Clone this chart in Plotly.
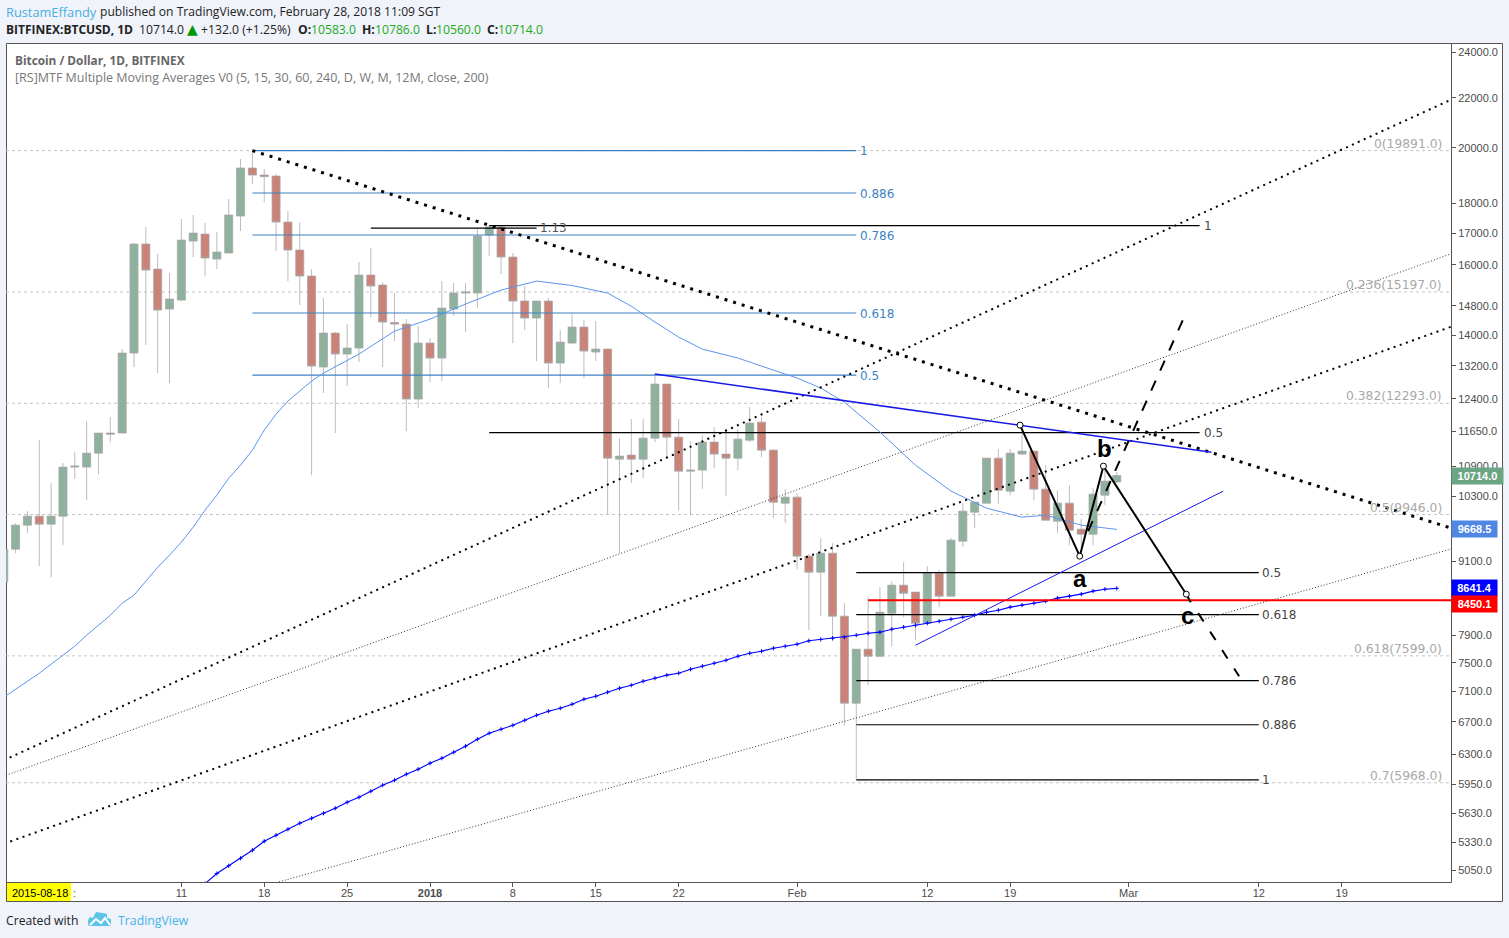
import math
import pandas as pd
import plotly.graph_objects as go

# Daily BTCUSD candles, 2017-11-26 to 2018-02-28
first_day = "2017-11-26"
opens = [8744, 9311, 9747, 9916, 9766, 9916, 10886, 10886, 11180, 11615, 11615, 13527, 16648, 15873, 14709, 14963, 16743, 16968, 16179, 16365, 17560, 19242, 18987, 18950, 17360, 16458, 15664, 13171, 14052, 13501, 13656, 15694, 15398, 14336, 14295, 12392, 13787, 13398, 14709, 15165, 15165, 16936, 17196, 16241, 14935, 14459, 14935, 13271, 13787, 14213, 13553, 13630, 11053, 11138, 11053, 11504, 12751, 11526, 10803, 10824, 11417, 11159, 11074, 11460, 11860, 11244, 10164, 10281, 9188, 8912, 9240, 8196, 6944, 7696, 7594, 8243, 8694, 8580, 8087, 8895, 8514, 9454, 9991, 10164, 11074, 10399, 11159, 11223, 10439, 9821, 10164, 9673, 9581, 10320, 10583]
highs = [9311, 9784, 10010, 11460, 10559, 10970, 11200, 11883, 11615, 11974, 13630, 16680, 17196, 16334, 15753, 17460, 17593, 17327, 17033, 18138, 19574, 19891, 19205, 19024, 17727, 17360, 15873, 15021, 14079, 14295, 16087, 16521, 15485, 15165, 14432, 14241, 13919, 15515, 15456, 15456, 17163, 17262, 17262, 16365, 15368, 14935, 15021, 14132, 14570, 14404, 14377, 13630, 11504, 11928, 11928, 13021, 12751, 11928, 11438, 11570, 11748, 11725, 11703, 12204, 11974, 11266, 10439, 10360, 9223, 9508, 9418, 8401, 7696, 8498, 8662, 8760, 9083, 8580, 9015, 8946, 9508, 10164, 10183, 11074, 11266, 11266, 11793, 11223, 10928, 10419, 10519, 9859, 10459, 10886, 10786]
lows = [8744, 9240, 9599, 9015, 8828, 9382, 10640, 10222, 10742, 11417, 11615, 13171, 13735, 13021, 12775, 14935, 16241, 15664, 15873, 16365, 17065, 18664, 18035, 16427, 15515, 14822, 10720, 12535, 11615, 12703, 13297, 14487, 13171, 13840, 11659, 12181, 12800, 12824, 14515, 14079, 14737, 16272, 15723, 13787, 14132, 13322, 12654, 12775, 13761, 12897, 13322, 9953, 9240, 10559, 10660, 11417, 11074, 10029, 9934, 10439, 10866, 10300, 10824, 11417, 11095, 9878, 9784, 8963, 7980, 8196, 7814, 6658, 6000, 7186, 7580, 7740, 8180, 7829, 8087, 8338, 8514, 9347, 9691, 10164, 10145, 10320, 11138, 10222, 9840, 9599, 9382, 9347, 9382, 10125, 10560]
closes = [9311, 9747, 9916, 9766, 9916, 10886, 10907, 11180, 11615, 11593, 13527, 16648, 15843, 14681, 14992, 16775, 17000, 16210, 16396, 17593, 19242, 18987, 18930, 17360, 16458, 15664, 13196, 14052, 13501, 13656, 15694, 15368, 14350, 14295, 12392, 13787, 13398, 14737, 15165, 15193, 16904, 17196, 16241, 14935, 14459, 14935, 13271, 13813, 14213, 13578, 13630, 11074, 11117, 11053, 11504, 12751, 11526, 10803, 10824, 11417, 11159, 11074, 11482, 11838, 11244, 10183, 10281, 9188, 8912, 9240, 8196, 6944, 7696, 7594, 8258, 8694, 8563, 8087, 8895, 8514, 9472, 10010, 10183, 11074, 10419, 11180, 11223, 10439, 9840, 10164, 9654, 9581, 10340, 10599, 10714]
days = pd.date_range(first_day, periods=len(closes)).strftime("%Y-%m-%d").tolist()

# Slow moving average, one reading per day from 13 December
slow_ma_start = "2017-12-13"
slow_ma = [4925, 5020, 5095, 5168, 5248, 5339, 5400, 5462, 5525, 5577, 5631, 5685, 5750, 5805, 5872, 5940, 5996, 6066, 6124, 6194, 6253, 6325, 6398, 6483, 6558, 6608, 6658, 6722, 6787, 6839, 6878, 6931, 6997, 7037, 7091, 7145, 7186, 7241, 7283, 7325, 7352, 7408, 7451, 7493, 7536, 7594, 7637, 7666, 7711, 7740, 7770, 7820, 7840, 7859, 7874, 7904, 7934, 7950, 7995, 8026, 8056, 8087, 8117, 8149, 8180, 8211, 8258, 8290, 8338, 8370, 8401, 8433, 8482, 8514, 8547, 8596, 8628, 8641.4]
slow_ma_days = pd.date_range(slow_ma_start, periods=len(slow_ma)).strftime("%Y-%m-%d").tolist()

# Faster moving average
fast_ma_days = ["2017-11-26", "2017-11-28", "2017-11-29", "2017-11-30", "2017-12-01", "2017-12-02", "2017-12-03", "2017-12-04", "2017-12-05", "2017-12-06", "2017-12-07", "2017-12-08", "2017-12-09", "2017-12-10", "2017-12-11", "2017-12-12", "2017-12-13", "2017-12-14", "2017-12-15", "2017-12-16", "2017-12-17", "2017-12-18", "2017-12-19", "2017-12-20", "2017-12-21", "2017-12-22", "2017-12-23", "2017-12-26", "2017-12-29", "2018-01-01", "2018-01-04", "2018-01-07", "2018-01-10", "2018-01-13", "2018-01-16", "2018-01-18", "2018-01-20", "2018-01-22", "2018-01-24", "2018-01-27", "2018-01-30", "2018-02-01", "2018-02-03", "2018-02-05", "2018-02-08", "2018-02-11", "2018-02-14", "2018-02-17", "2018-02-20", "2018-02-22", "2018-02-25", "2018-02-28"]
fast_ma = [7022, 7241, 7352, 7479, 7608, 7740, 7904, 8056, 8210, 8401, 8530, 8760, 8997, 9205, 9436, 9710, 10029, 10320, 10660, 10928, 11244, 11681, 12042, 12345, 12582, 12824, 13020, 13500, 14105, 14430, 14850, 15251, 15515, 15385, 15165, 14790, 14350, 13945, 13630, 13400, 13095, 12900, 12655, 12320, 11637, 10928, 10400, 10068, 9896, 9934, 9747, 9668.5]

# Price scale labels
price_ticks = [24000, 22000, 20000, 18000, 17000, 16000, 14800, 14000, 13200, 12400, 11650, 10900, 10300, 9100, 7900, 7500, 7100, 6700, 6300, 5950, 5630, 5330, 5050]
date_ticks = ["2017-12-11", "2017-12-18", "2017-12-25", "2018-01-01", "2018-01-08", "2018-01-15", "2018-01-22", "2018-02-01", "2018-02-12", "2018-02-19", "2018-03-01", "2018-03-12", "2018-03-19"]
date_labels = ["11", "18", "25", "<b>2018</b>", "8", "15", "22", "Feb", "12", "19", "Mar", "12", "19"]

# Whole-range retracement levels
channel_levels = [19891.0, 15197.0, 12293.0, 9946.0, 7599.0, 5968.0]
channel_labels = ["0(19891.0)", "0.236(15197.0)", "0.382(12293.0)", "0.5(9946.0)", "0.618(7599.0)", "0.7(5968.0)"]

# December peak retracement
peak_levels = [19891.0, 18346, 16936, 14598, 12970]
peak_labels = ["1", "0.886", "0.786", "0.618", "0.5"]

# February low retracement
low_levels = [8905, 8220, 7250, 6665, 6000]
low_labels = ["0.5", "0.618", "0.786", "0.886", "1"]

# Drawn trend lines: two dates and two prices each
falling_dates, falling_prices = ["2017-12-17", "2018-03-29"], [19891, 9640]
rising_a_dates, rising_a_prices = ["2017-11-25", "2018-03-29"], [6165, 22090]
rising_b_dates, rising_b_prices = ["2017-11-25", "2018-03-29"], [5995, 16445]
rising_c_dates, rising_c_prices = ["2017-11-25", "2018-03-29"], [5270, 14310]
rising_d_dates, rising_d_prices = ["2017-12-19", "2018-03-29"], [4933, 9360]
blue_a_dates, blue_a_prices = ["2018-01-20", "2018-03-08"], [12996, 11200]
blue_b_dates, blue_b_prices = ["2018-02-11", "2018-03-09"], [7755, 10400]

# a-b-c wave and its projections
wave_dates = ["2018-02-19 20:00", "2018-02-24 21:00", "2018-02-26 21:00", "2018-03-05 21:00"]
wave_prices = [11793, 9188, 10907, 8546]
wave_tail_dates, wave_tail_prices = ["2018-03-05 21:00", "2018-03-06 06:00"], [8546, 8417]
up_dash_dates, up_dash_prices = ["2018-02-25 14:00", "2018-03-05 14:00"], [9636, 14404]
down_dash_dates, down_dash_prices = ["2018-03-06 21:00", "2018-03-10 08:00"], [8243, 7310]

last_close = closes[-1]
last_fast = fast_ma[-1]
last_slow = slow_ma[-1]
support = 8450.1

WIDTH, HEIGHT = 1509, 938
LEFT, RIGHT, TOP, BOTTOM = 6, 1451, 43, 882
PANEL = "#f0f3fa"
FRAME = "#555555"
FIB_BLUE = "#3d82c4"
GREY_TEXT = "#a8a8a8"


def fx(x):
    return (x - LEFT) / (RIGHT - LEFT)


def fy(y):
    return (BOTTOM - y) / (BOTTOM - TOP)


def note(x, y, text, size=12, color="#444444", family="DejaVu Sans", anchor="left", **kw):
    shift = -1 if anchor == "left" else 0
    return dict(x=fx(x + shift), y=fy(y), xref="paper", yref="paper", text=text, showarrow=False,
                xanchor=anchor, yanchor="middle", align=anchor if anchor != "middle" else "center",
                font=dict(size=size, color=color, family=family), borderpad=0, **kw)


def tag(x, y, text, color, w):
    return dict(x=fx(x), y=fy(y), xref="paper", yref="paper", text=f"<b>{text}</b>", showarrow=False,
                xanchor="left", yanchor="middle", align="center", width=w, height=16,
                bgcolor=color, borderpad=0,
                font=dict(size=11, color="white", family="Liberation Sans"))


def frame_line(x0, y0, x1, y1, color=FRAME, width=1):
    return dict(type="line", xref="paper", yref="paper", x0=fx(x0), y0=fy(y0), x1=fx(x1), y1=fy(y1),
                line=dict(color=color, width=width), layer="above")


def line(dates, prices, color="black", width=1, dash="solid", mode="lines", **kw):
    return go.Scatter(x=dates, y=prices, mode=mode, line=dict(color=color, width=width, dash=dash),
                      hoverinfo="skip", showlegend=False, **kw)


fig = go.Figure()

fig.add_trace(go.Candlestick(
    x=days, open=opens, high=highs, low=lows, close=closes, showlegend=False, hoverinfo="skip",
    increasing=dict(line=dict(color="rgba(165,165,165,0.75)", width=1), fillcolor="#8fb29e"),
    decreasing=dict(line=dict(color="rgba(165,165,165,0.75)", width=1), fillcolor="#cb8277"),
))

# Retracement level lines
for level in peak_levels:
    fig.add_trace(line(["2017-12-17", "2018-02-06"], [level, level], color=FIB_BLUE, width=1.1))
for level in low_levels:
    fig.add_trace(line(["2018-02-06", "2018-03-12"], [level, level], width=1.2))
fig.add_trace(line(["2017-12-27", "2018-01-10"], [17163, 17163], width=1.2))
fig.add_trace(line(["2018-01-06", "2018-03-07"], [17245, 17245], width=1.2))
fig.add_trace(line(["2018-01-06", "2018-03-07"], [11626, 11626], width=1.2))

# Moving averages
fig.add_trace(line(fast_ma_days, fast_ma, color="#5b94ef"))
fig.add_trace(line(slow_ma_days, slow_ma, color="#0000ff", width=1.1, mode="lines+markers",
                   marker=dict(symbol="cross-thin", size=3, color="#0000ff",
                               line=dict(color="#0000ff", width=1))))

# Trend lines
fig.add_trace(line(falling_dates, falling_prices, width=3, dash="3px,6px"))
fig.add_trace(line(rising_a_dates, rising_a_prices, width=2, dash="2px,4.5px"))
fig.add_trace(line(rising_c_dates, rising_c_prices, width=2, dash="2px,4.5px"))
fig.add_trace(line(rising_b_dates, rising_b_prices, color="#333333", width=1, dash="1px,2px"))
fig.add_trace(line(rising_d_dates, rising_d_prices, color="#333333", width=1, dash="1px,2px"))
fig.add_trace(line(blue_a_dates, blue_a_prices, color="#1a1ae6", width=1.5))
fig.add_trace(line(blue_b_dates, blue_b_prices, color="#1a1ae6", width=1))

# Support level
fig.add_trace(line(["2018-02-07", "2018-03-29"], [support, support], color="#ff0000", width=2))

# Wave projection
fig.add_trace(line(up_dash_dates, up_dash_prices, width=2, dash="11px,11px"))
fig.add_trace(line(down_dash_dates, down_dash_prices, width=2, dash="10px,12px"))
fig.add_trace(line(wave_tail_dates, wave_tail_prices, width=2))
fig.add_trace(line(wave_dates, wave_prices, width=2, mode="lines+markers",
                   marker=dict(symbol="circle", size=6, color="white", line=dict(color="black", width=1))))

shapes = [
    dict(type="rect", xref="paper", yref="paper", x0=fx(6.5), y0=fy(43.5), x1=fx(1502.5), y1=fy(901.5),
         fillcolor="white", line=dict(color=FRAME, width=1), layer="below"),
    frame_line(RIGHT + 0.5, 43.5, RIGHT + 0.5, 882.5),
    frame_line(6.5, 882.5, RIGHT + 0.5, 882.5),
    dict(type="rect", xref="paper", yref="paper", x0=fx(7), y0=fy(883), x1=fx(71), y1=fy(901),
         fillcolor="#ffff00", line=dict(width=0), layer="above"),
]
for level in channel_levels:
    shapes.append(dict(type="line", xref="paper", yref="y", x0=0, x1=1, y0=level, y1=level,
                       line=dict(color="#c4c4c4", width=1, dash="3px,3px"), layer="below"))

# TradingView cloud mark
cloud = [(88, 924), (88, 920), (90, 917), (93, 918), (96, 912), (103, 913), (107, 914), (107, 918),
         (111, 919), (111, 923), (110, 926), (89, 926)]
shapes.append(dict(type="path", xref="paper", yref="paper", fillcolor="#5cc3e9", line=dict(width=0),
                   layer="above",
                   path="M " + " L ".join(f"{fx(a):.5f},{fy(b):.5f}" for a, b in cloud) + " Z"))
ridge = [(90, 925), (96, 919), (101, 923), (105, 918), (110, 925)]
shapes.append(dict(type="path", xref="paper", yref="paper", line=dict(color="white", width=2),
                   layer="above",
                   path="M " + " L ".join(f"{fx(a):.5f},{fy(b):.5f}" for a, b in ridge)))

HEADER_FONT = "Open Sans"
GAIN = "#22aa22"
INK = "#222222"
notes = [
    note(6, 11.5, "RustamEffandy", size=12.8, color="#4aaee0", family=HEADER_FONT),
    note(99.5, 11.5, "published on TradingView.com, February 28, 2018 11:09 SGT",
         size=12.1, color=INK, family=HEADER_FONT),
    note(15, 60, "<b>Bitcoin / Dollar, 1D, BITFINEX</b>", size=11.8, color="#666666", family=HEADER_FONT),
    note(15, 77.5, "[RS]MTF Multiple Moving Averages V0 (5, 15, 30, 60, 240, D, W, M, 12M, close, 200)",
         size=12.5, color="#777777", family=HEADER_FONT),
    note(6, 920, "Created with", size=12.2, color=INK, family=HEADER_FONT),
    note(118, 920, "TradingView", size=12.3, color="#45b3e6", family=HEADER_FONT),
    note(11.5, 893, "2015-08-18", size=11, color="#000000", family="Liberation Sans"),
    note(73, 893, ":", size=11, color="#555555", family="Liberation Sans"),
    note(540, 228, "1.13", color="#555555"),
    note(1204, 225.5, "1", color="#444444"),
    note(1204, 432.5, "0.5", color="#444444"),
    note(1080, 578, "<b>a</b>", size=24, color="black", family="Liberation Sans", anchor="center"),
    note(1104, 449, "<b>b</b>", size=24, color="black", family="Liberation Sans", anchor="center"),
    note(1187, 615, "<b>c</b>", size=24, color="black", family="Liberation Sans", anchor="center"),
    tag(1451, 476, f"{last_close:.1f}", "#6ba583", 51),
    tag(1451, 529, f"{last_fast:.1f}", "#4f87e3", 45),
    tag(1451, 588, f"{last_slow:.1f}", "#0000ff", 45),
    tag(1451, 604, f"{support:.1f}", "#ff0000", 45),
]
# Symbol and OHLC summary row
summary_row = [
    (6, "<b>BITFINEX:BTCUSD, 1D</b>", INK, 12.0), (138.5, "10714.0", INK, 12.2), (201, "+132.0 (+1.25%)", INK, 12.2),
    (297.5, "<b>O:</b>", INK, 12.2), (311, "10583.0", GAIN, 12.2), (361.5, "<b>H:</b>", INK, 12.2), (375, "10786.0", GAIN, 12.2),
    (425.5, "<b>L:</b>", INK, 12.2), (436, "10560.0", GAIN, 12.2), (487, "<b>C:</b>", INK, 12.2), (498, "10714.0", GAIN, 12.2),
]
for x, text, color, size in summary_row:
    notes.append(note(x, 29.5, text, size=size, color=color, family=HEADER_FONT))
notes.append(note(186.5, 29, "▲", size=14, color="#009900", family="DejaVu Sans"))
for text, y in zip(channel_labels, [144, 285, 396, 508, 649, 776]):
    notes.append(note(1443, y, text, size=12.3, color=GREY_TEXT, anchor="right"))
for text, y in zip(peak_labels, [151.5, 194, 236, 314, 376]):
    notes.append(note(860, y, text, color=FIB_BLUE))
for text, y in zip(low_labels, [572.5, 614.5, 680.5, 724.5, 779.5]):
    notes.append(note(1262, y, text, color="#444444"))

fig.update_layout(
    width=WIDTH, height=HEIGHT, autosize=False,
    margin=dict(l=LEFT, r=WIDTH - RIGHT, t=TOP, b=HEIGHT - BOTTOM, pad=0),
    paper_bgcolor=PANEL, plot_bgcolor="rgba(0,0,0,0)",
    showlegend=False, hovermode=False, boxgap=0.2, boxgroupgap=0.15,
    shapes=shapes, annotations=notes,
    xaxis=dict(
        type="date", range=["2017-11-26 04:34", "2018-03-28 05:31"], rangeslider=dict(visible=False),
        tickmode="array", tickvals=date_ticks, ticktext=date_labels, ticklabelstandoff=-3,
        showgrid=False, zeroline=False, showline=False, ticks="outside", ticklen=4, tickcolor=FRAME,
        tickfont=dict(size=11, color="#4c4c4c", family="Liberation Sans"),
    ),
    yaxis=dict(
        type="log", side="right", range=[math.log10(4940), math.log10(24415)],
        tickmode="array", tickvals=price_ticks, ticktext=[f"{t:.1f}" for t in price_ticks],
        showgrid=False, zeroline=False, showline=False, ticks="outside", ticklen=4, tickcolor=FRAME,
        tickfont=dict(size=11, color="#4c4c4c", family="Liberation Sans"),
    ),
)

fig.write_html("out.html")
